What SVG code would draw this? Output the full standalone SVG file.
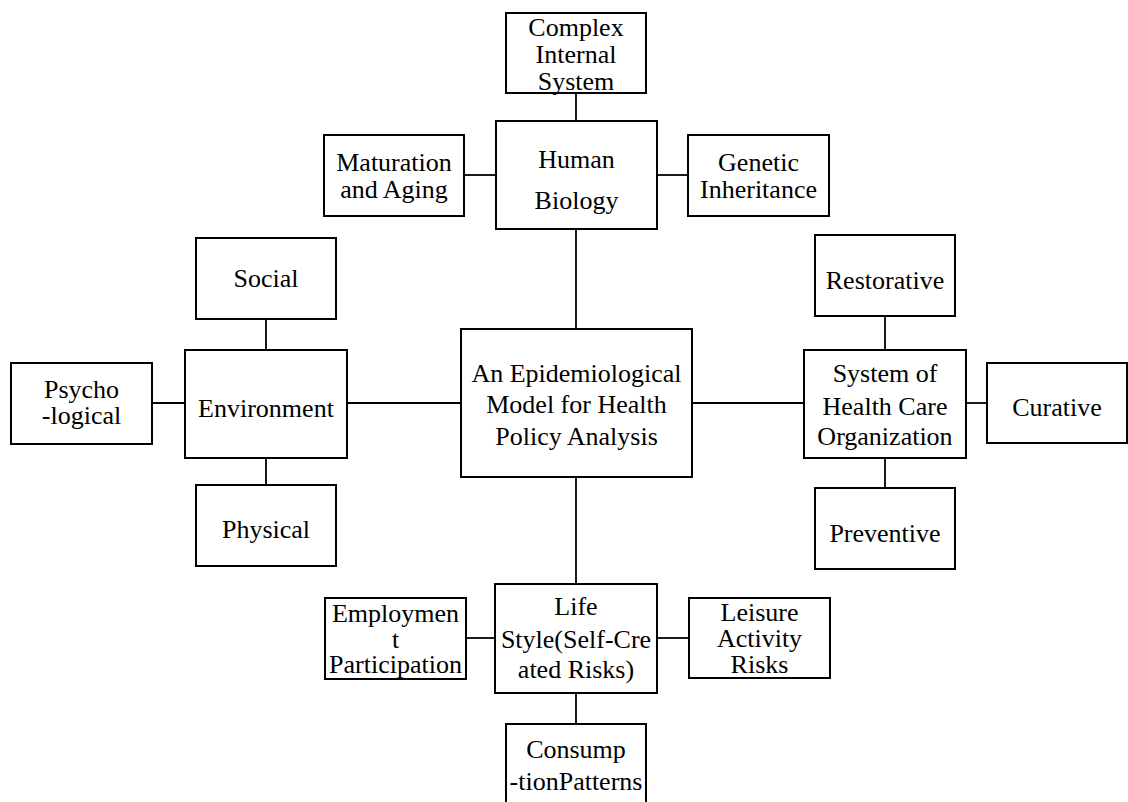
<svg xmlns="http://www.w3.org/2000/svg" width="1128" height="802" viewBox="0 0 1128 802">
<style>
.box{fill:#fff;stroke:#000;stroke-width:2}
.c{stroke:#000;stroke-width:1.8;fill:none}
text{font-family:"Liberation Serif","Times New Roman",serif;font-size:26px;fill:#000;text-anchor:middle}
</style>
<rect width="1128" height="802" fill="#fff"/>
<g id="connectors">
<line class="c" x1="576" y1="93" x2="576" y2="121"/>
<line class="c" x1="464" y1="175" x2="496" y2="175"/>
<line class="c" x1="657" y1="175" x2="688" y2="175"/>
<line class="c" x1="576" y1="229" x2="576" y2="329"/>
<line class="c" x1="266" y1="319" x2="266" y2="350"/>
<line class="c" x1="152" y1="403" x2="185" y2="403"/>
<line class="c" x1="347" y1="403" x2="461" y2="403"/>
<line class="c" x1="266" y1="458" x2="266" y2="485"/>
<line class="c" x1="692" y1="403" x2="804" y2="403"/>
<line class="c" x1="885" y1="316" x2="885" y2="350"/>
<line class="c" x1="966" y1="403" x2="987" y2="403"/>
<line class="c" x1="885" y1="458" x2="885" y2="488"/>
<line class="c" x1="576" y1="477" x2="576" y2="584"/>
<line class="c" x1="466" y1="638" x2="495" y2="638"/>
<line class="c" x1="657" y1="638" x2="689" y2="638"/>
<line class="c" x1="576" y1="693" x2="576" y2="724"/>
</g>
<g id="complex"><rect class="box" x="506" y="13" width="140" height="80"/><text x="576" y="36">Complex</text><text x="576" y="63">Internal</text><text x="576" y="90">System</text></g>
<g id="human"><rect class="box" x="496" y="121" width="161" height="108"/><text x="576.5" y="168">Human</text><text x="576.5" y="209">Biology</text></g>
<g id="maturation"><rect class="box" x="324" y="135" width="140" height="81"/><text x="394" y="171">Maturation</text><text x="394" y="198">and Aging</text></g>
<g id="genetic"><rect class="box" x="688" y="135" width="141" height="81"/><text x="758.5" y="171">Genetic</text><text x="758.5" y="198">Inheritance</text></g>
<g id="social"><rect class="box" x="196" y="238" width="140" height="81"/><text x="266" y="287">Social</text></g>
<g id="environment"><rect class="box" x="185" y="350" width="162" height="108"/><text x="266" y="417">Environment</text></g>
<g id="psycho"><rect class="box" x="11" y="363" width="141" height="81"/><text x="81.5" y="398">Psycho</text><text x="81.5" y="424">-logical</text></g>
<g id="physical"><rect class="box" x="196" y="485" width="140" height="81"/><text x="266" y="538">Physical</text></g>
<g id="center"><rect class="box" x="461" y="329" width="231" height="148"/><text x="576.5" y="382">An Epidemiological</text><text x="576.5" y="413">Model for Health</text><text x="576.5" y="445">Policy Analysis</text></g>
<g id="restorative"><rect class="box" x="815" y="235" width="140" height="81"/><text x="885" y="289">Restorative</text></g>
<g id="system"><rect class="box" x="804" y="350" width="162" height="108"/><text x="885" y="382">System of</text><text x="885" y="415">Health Care</text><text x="885" y="445">Organization</text></g>
<g id="curative"><rect class="box" x="987" y="363" width="140" height="80"/><text x="1057" y="416">Curative</text></g>
<g id="preventive"><rect class="box" x="815" y="488" width="140" height="81"/><text x="885" y="542">Preventive</text></g>
<g id="lifestyle"><rect class="box" x="495" y="584" width="162" height="109"/><text x="576" y="615">Life</text><text x="576" y="648">Style(Self-Cre</text><text x="576" y="678">ated Risks)</text></g>
<g id="employment"><rect class="box" x="325" y="598" width="141" height="81"/><text x="395.5" y="622">Employmen</text><text x="395.5" y="648">t</text><text x="395.5" y="673">Participation</text></g>
<g id="leisure"><rect class="box" x="689" y="598" width="141" height="80"/><text x="759.5" y="621">Leisure</text><text x="759.5" y="647">Activity</text><text x="759.5" y="673">Risks</text></g>
<g id="consumption"><rect class="box" x="506" y="724" width="140" height="90"/><text x="576" y="758">Consump</text><text x="576" y="790">-tionPatterns</text></g>
</svg>
